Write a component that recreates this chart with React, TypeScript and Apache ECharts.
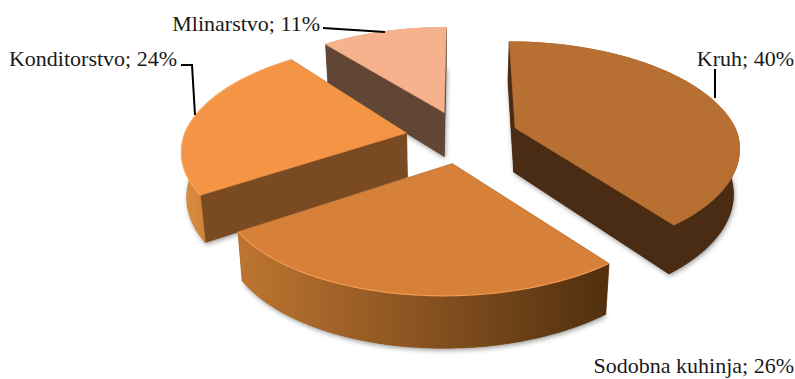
import React, { useEffect, useRef } from "react";
import * as echarts from "echarts";

const categories = ["Kruh", "Sodobna kuhinja", "Konditorstvo", "Mlinarstvo"];
const shares = [40, 26, 24, 11];
const topColors = ["#b86f32", "#d7803a", "#f49546", "#f6b28c"];
const wallColors = ["#4a2b13", "#7a4a22", "#7a4a22", "#614635"];
const rimColors = ["#b86f32", "#f09a4e", "#f7a860", "#f6b28c"];
const arcStops: string[][] = [
  ["#4a2b13", "#4a2b13"],
  ["#bd7431", "#52300f"],
  ["#d98b3d", "#a0602a"],
  ["#614635", "#614635"],
];
const labelBoxes = [
  { x: 794, y: 58, align: "right" },
  { x: 794, y: 365, align: "right" },
  { x: 177, y: 58, align: "right" },
  { x: 320, y: 23, align: "right" },
];
const leaders = [
  [[715, 69], [715, 98]],
  [],
  [[181, 65], [192, 65], [195, 115]],
  [[323, 28], [385, 32]],
];

// Perspective pie geometry
const CX = 462;
const CY = 137;
const RX = 220;
const RY = 103;
const DEPTH = 44;
const TILT = 0.197;
const EXPLODE_X = 56;
const EXPLODE_Y = 28;
const VANISH_X = 445;
const SKEW = 0.5;
const DROP_CONVERGE = 0.02;
const DEPTH_FALLOFF = 0.6;

// Per-slice corrections for the way the exploded slices sit in the 3D view
const sliceView = [
  { scaleX: 1, scaleY: 1, shear: 0, depth: 1, apexDx: 0, apexDy: 0, rimDx: 0, rimDy: 0 },
  { scaleX: 1.03, scaleY: 1.03, shear: 0.066, depth: 1.04, apexDx: -1, apexDy: -1, rimDx: 0, rimDy: 0 },
  { scaleX: 1, scaleY: 1, shear: 0.04, depth: 1, apexDx: 0, apexDy: 0, rimDx: 0, rimDy: -4 },
  { scaleX: 1, scaleY: 1, shear: 0, depth: 1, apexDx: 1, apexDy: 2, rimDx: 2, rimDy: 1 },
];

const total = shares.reduce((a, b) => a + b, 0);

function sliceAngles(i: number) {
  const before = shares.slice(0, i).reduce((a, b) => a + b, 0);
  const a0 = (before / total) * Math.PI * 2;
  const a1 = ((before + shares[i]) / total) * Math.PI * 2;
  return [a0, a1];
}

function makeProjector(i: number) {
  const [a0, a1] = sliceAngles(i);
  const view = sliceView[i];
  const mid = (a0 + a1) / 2;
  const ax = CX + EXPLODE_X * Math.sin(mid) + view.apexDx;
  const ay = CY - EXPLODE_Y * Math.cos(mid) + view.apexDy;
  const converge = (x: number, drop: number) => x + drop * (VANISH_X - x) * DROP_CONVERGE;
  const apex = (drop: number) => [converge(ax, drop), ay + drop * DEPTH * view.depth];
  const rimPoint = (t: number, drop: number) => {
    const u = Math.sin(t);
    const v = -Math.cos(t);
    const p = 1 / (1 - TILT * v);
    const dy = RY * view.scaleY * v * p + view.rimDy;
    const skew = p < 1 ? (ax - VANISH_X) * (p - 1) * SKEW : 0;
    const x = ax + skew + RX * view.scaleX * u * p - view.shear * dy + view.rimDx;
    const wallHeight = DEPTH * view.depth * (1 + (p - 1) * DEPTH_FALLOFF);
    return [converge(x, drop), ay + dy + drop * wallHeight];
  };
  return { a0, a1, apex, rimPoint };
}

function arcPoints(proj: ReturnType<typeof makeProjector>, drop: number) {
  const pts: number[][] = [];
  const steps = 64;
  for (let k = 0; k <= steps; k++) {
    pts.push(proj.rimPoint(proj.a0 + ((proj.a1 - proj.a0) * k) / steps, drop));
  }
  return pts;
}

function renderSlice(params: any, api: any) {
  const i = api.value(0) as number;
  const proj = makeProjector(i);
  const topArc = arcPoints(proj, 0);
  const lowArc = arcPoints(proj, 1);
  const xs = lowArc.map((p) => p[0]);
  const arcFill = {
    type: "linear",
    global: true,
    x: Math.min(...xs),
    y: 0,
    x2: Math.max(...xs),
    y2: 0,
    colorStops: [
      { offset: 0, color: arcStops[i][0] },
      { offset: 1, color: arcStops[i][1] },
    ],
  };
  const wall = (pts: number[][], fill: any) => ({
    type: "polygon",
    shape: { points: pts },
    style: { fill, stroke: fill, lineWidth: 0.5 },
  });
  return {
    type: "group",
    children: [
      {
        type: "polygon",
        shape: { points: [proj.apex(1), ...lowArc] },
        style: {
          fill: wallColors[i],
          shadowBlur: 5,
          shadowColor: "rgba(0,0,0,0.4)",
          shadowOffsetX: 1,
          shadowOffsetY: 2,
        },
      },
      wall([proj.apex(0), topArc[0], lowArc[0], proj.apex(1)], wallColors[i]),
      wall(
        [proj.apex(0), topArc[topArc.length - 1], lowArc[lowArc.length - 1], proj.apex(1)],
        wallColors[i]
      ),
      wall([...topArc, ...lowArc.slice().reverse()], arcFill),
      wall([proj.apex(0), ...topArc], topColors[i]),
      {
        type: "polyline",
        shape: { points: topArc },
        style: { fill: "none", stroke: rimColors[i], lineWidth: 1.2 },
      },
    ],
  };
}

export default function App() {
  const ref = useRef<HTMLDivElement>(null);
  useEffect(() => {
    const chart = echarts.init(ref.current!, null, { renderer: "svg" });
    // Back slices first so the nearer ones overlap them
    const drawOrder = [3, 2, 0, 1];
    chart.setOption({
      animation: false,
      backgroundColor: "#ffffff",
      series: [
        {
          type: "custom",
          coordinateSystem: "none",
          silent: true,
          data: drawOrder.map((i) => [i, shares[i]]),
          renderItem: renderSlice,
        },
      ],
      graphic: [
        ...categories.map((name, i) => ({
          type: "text",
          x: labelBoxes[i].x,
          y: labelBoxes[i].y,
          z: 10,
          style: {
            text: `${name}; ${shares[i]}%`,
            font: '22px "Liberation Serif"',
            fill: "#1a1a1a",
            align: labelBoxes[i].align,
            verticalAlign: "middle",
          },
        })),
        ...leaders
          .filter((pts) => pts.length > 0)
          .map((pts) => ({
            type: "polyline",
            z: 10,
            shape: { points: pts },
            style: { fill: "none", stroke: "#000000", lineWidth: 2 },
          })),
      ],
    });
    return () => chart.dispose();
  }, []);
  return (
    <div
      ref={ref}
      style={{ position: "fixed", left: 0, top: 0, width: 795, height: 379, background: "#fff" }}
    />
  );
}
